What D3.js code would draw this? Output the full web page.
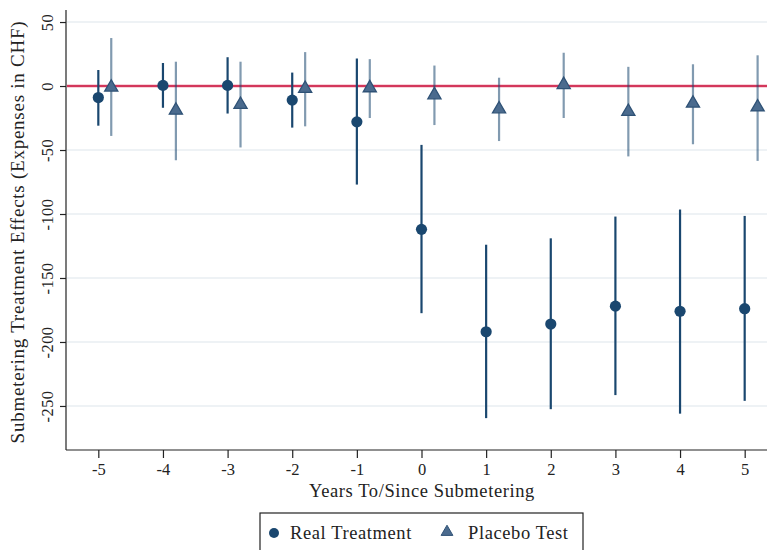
<!DOCTYPE html>
<html>
<head>
<meta charset="utf-8">
<script src="https://cdn.jsdelivr.net/npm/d3@7"></script>
<style>
  html, body { margin: 0; padding: 0; background: #fff; }
  svg { display: block; font-family: "Liberation Serif", "Times New Roman", serif; }
</style>
</head>
<body>
<svg id="chart" width="767" height="550"></svg>
<script>
// Event-study estimates with 95% confidence intervals
const years = [-5, -4, -3, -2, -1, 0, 1, 2, 3, 4, 5];

const realEst   = [-9, 0.5, 0.5, -11, -28, -112, -192, -186, -172, -176, -174];
const realLow   = [-31, -17, -21.5, -32.5, -77, -177.5, -259.5, -252.5, -241.5, -256, -246];
const realHigh  = [12.5, 18, 22.5, 10.5, 21.5, -46, -124, -119, -102, -96.5, -101.5];

const placeboEst  = [-1, -19, -14.5, -2, -1.5, -7, -18, 1, -20, -13.5, -16.5];
const placeboLow  = [-39, -58, -48, -31.5, -25, -30.5, -43, -25, -55, -45.5, -58.5];
const placeboHigh = [37.5, 19, 19, 26.5, 21, 16, 6.5, 26, 15, 17, 24];
const placeboShift = 0.2;

const yTicks = [50, 0, -50, -100, -150, -200, -250];
const gridValues = [50, -50, -100, -150, -200, -250];

const labels = {
  y: "Submetering Treatment Effects (Expenses in CHF)",
  x: "Years To/Since Submetering",
  real: "Real Treatment",
  placebo: "Placebo Test"
};

const navy = "#1a476f";
const ink = "#222";
const serif = '"Liberation Serif", "Times New Roman", serif';
const svg = d3.select("#chart");

const x = d3.scaleLinear().domain([-5.5, 5.5]).range([66, 777]);
const y = d3.scaleLinear().domain([-284.4, 59.4]).range([450, 10]);
const plainNum = d => String(d);   // ASCII hyphen for negatives

// gridlines
svg.append("g").selectAll("line").data(gridValues).join("line")
  .attr("x1", 67).attr("x2", 767)
  .attr("y1", d => y(d)).attr("y2", d => y(d))
  .attr("stroke", "#e9eef2").attr("stroke-width", 1.6);

// zero reference line
svg.append("line")
  .attr("x1", 67).attr("x2", 767).attr("y1", y(0)).attr("y2", y(0))
  .attr("stroke", "#f2a6b6").attr("stroke-width", 3);
svg.append("line")
  .attr("x1", 67).attr("x2", 767).attr("y1", y(0)).attr("y2", y(0))
  .attr("stroke", "#c8123c").attr("stroke-width", 1.6);

// axes
const yAxis = d3.axisLeft(y).tickValues(yTicks).tickSize(6).tickPadding(6).tickFormat(plainNum);
const gy = svg.append("g").attr("transform", "translate(66,0)").call(yAxis)
  .attr("font-family", serif);
gy.select(".domain").attr("stroke", ink).attr("stroke-width", 1.2)
  .attr("d", `M0,${y.range()[1]}V${y.range()[0]}`);
gy.selectAll(".tick line").attr("stroke", ink).attr("stroke-width", 1.2);
gy.selectAll(".tick text")
  .attr("font-size", 16.5).attr("fill", ink).attr("letter-spacing", 0.4)
  .attr("transform", "rotate(-90)")
  .attr("x", 0).attr("y", -13).attr("dy", 0)
  .attr("text-anchor", "middle");

const xAxis = d3.axisBottom(x).tickValues(years).tickSize(8).tickPadding(5).tickFormat(plainNum);
const gx = svg.append("g").attr("transform", "translate(0,450)").call(xAxis)
  .attr("font-family", serif);
gx.select(".domain").attr("stroke", ink).attr("stroke-width", 1.2)
  .attr("d", `M66,0H777`);
gx.selectAll(".tick line").attr("stroke", ink).attr("stroke-width", 1.2);
gx.selectAll(".tick text").attr("font-size", 16.5).attr("fill", ink).attr("dy", "0.75em");

// axis titles
svg.append("text")
  .attr("transform", `translate(24,${(y.range()[0] + y.range()[1]) / 2 + 2}) rotate(-90)`)
  .attr("text-anchor", "middle").attr("font-size", 19).attr("letter-spacing", 0.75).attr("fill", ink)
  .text(labels.y);
svg.append("text")
  .attr("x", 422).attr("y", 497)
  .attr("text-anchor", "middle").attr("font-size", 18.5).attr("letter-spacing", 0.6).attr("fill", ink)
  .text(labels.x);

const realData = years.map((yr, i) => ({ yr, est: realEst[i], lo: realLow[i], hi: realHigh[i] }));
const placeboData = years.map((yr, i) => ({ yr: yr + placeboShift, est: placeboEst[i], lo: placeboLow[i], hi: placeboHigh[i] }));

// placebo intervals and markers
svg.append("g").selectAll("line").data(placeboData).join("line")
  .attr("x1", d => x(d.yr)).attr("x2", d => x(d.yr))
  .attr("y1", d => y(d.lo)).attr("y2", d => y(d.hi))
  .attr("stroke", navy).attr("stroke-opacity", 0.55).attr("stroke-width", 2.2);

const tri = d3.symbol().type(d3.symbolTriangle).size(75);
svg.append("g").selectAll("path").data(placeboData).join("path")
  .attr("d", tri)
  .attr("transform", d => `translate(${x(d.yr)},${y(d.est)})`)
  .attr("fill", "#4b6b8e").attr("stroke", "#2f5276").attr("stroke-width", 1.3);

// real treatment intervals and markers
svg.append("g").selectAll("line").data(realData).join("line")
  .attr("x1", d => x(d.yr)).attr("x2", d => x(d.yr))
  .attr("y1", d => y(d.lo)).attr("y2", d => y(d.hi))
  .attr("stroke", navy).attr("stroke-width", 2.2);

svg.append("g").selectAll("circle").data(realData).join("circle")
  .attr("cx", d => x(d.yr)).attr("cy", d => y(d.est))
  .attr("r", 5.6).attr("fill", navy);

// legend
const lg = svg.append("g");
lg.append("rect").attr("x", 260).attr("y", 513).attr("width", 323).attr("height", 50)
  .attr("fill", "#fff").attr("stroke", ink).attr("stroke-width", 1.2);
lg.append("circle").attr("cx", 274).attr("cy", 533).attr("r", 5).attr("fill", navy);
lg.append("text").attr("x", 290).attr("y", 539).attr("font-size", 18.5).attr("letter-spacing", 0.6).attr("fill", ink).text(labels.real);
lg.append("path").attr("d", d3.symbol().type(d3.symbolTriangle).size(60))
  .attr("transform", "translate(447,532)")
  .attr("fill", "#4b6b8e").attr("stroke", "#2f5276").attr("stroke-width", 1);
lg.append("text").attr("x", 468).attr("y", 539).attr("font-size", 18.5).attr("letter-spacing", 0.6).attr("fill", ink).text(labels.placebo);
</script>
</body>
</html>
